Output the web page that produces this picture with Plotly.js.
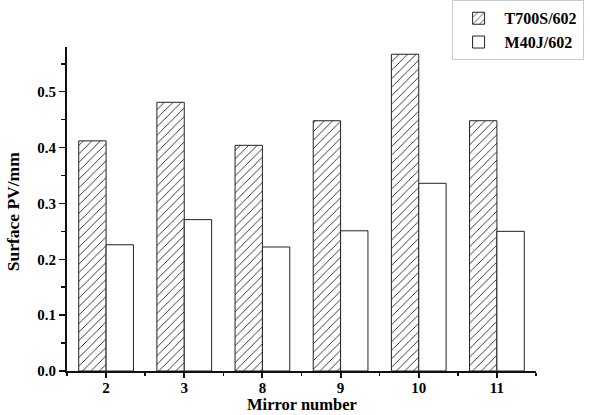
<!DOCTYPE html>
<html><head><meta charset="utf-8">
<script src="https://cdn.plot.ly/plotly-3.0.1.min.js"></script>
<style>html,body{margin:0;padding:0;background:#fff}#chart{width:590px;height:415px}</style>
</head><body><div id="chart"></div>
<script>
const categories = ["2", "3", "8", "9", "10", "11"];
const seriesNames = ["T700S/602", "M40J/602"];
const t700s = [0.412, 0.481, 0.404, 0.448, 0.567, 0.448];
const m40j = [0.226, 0.271, 0.222, 0.251, 0.336, 0.250];
const yTicks = [0.0, 0.1, 0.2, 0.3, 0.4, 0.5];

const idx = categories.map((c, i) => i);
const font = {family: "Liberation Serif, Times New Roman, serif", color: "#000"};

const traces = [
  {type: "bar", name: seriesNames[0], x: idx, y: t700s,
   marker: {color: "#fff", line: {color: "#222", width: 1},
            pattern: {shape: "/", fgcolor: "#222", bgcolor: "#fff", size: 6, solidity: 0.15}}},
  {type: "bar", name: seriesNames[1], x: idx, y: m40j,
   marker: {color: "#fff", line: {color: "#222", width: 1}}}
];

const layout = {
  width: 590, height: 415,
  margin: {l: 67, r: 54, t: 47, b: 44, autoexpand: false},
  paper_bgcolor: "#fff", plot_bgcolor: "#fff",
  barmode: "group", bargap: 0.3, bargroupgap: 0,
  font: Object.assign({size: 14}, font),
  xaxis: {
    range: [-0.5, 5.5], tickmode: "array", tickvals: idx, ticktext: categories,
    showgrid: false, zeroline: false, showline: true, linecolor: "#111", linewidth: 2,
    ticks: "outside", ticklen: 5, tickwidth: 2, tickcolor: "#111", ticklabelstandoff: -3,
    tickfont: Object.assign({size: 15, weight: "bold"}, font),
    minor: {tickmode: "linear", tick0: 0.5, dtick: 1, ticks: "outside", ticklen: 3, tickwidth: 1.5, tickcolor: "#111", showgrid: false},
    title: {text: ""}
  },
  yaxis: {
    range: [0, 0.58], tickmode: "array", tickvals: yTicks, tickformat: ".1f",
    showgrid: false, zeroline: false, showline: true, linecolor: "#111", linewidth: 2,
    ticks: "outside", ticklen: 6, tickwidth: 1.5, tickcolor: "#111",
    tickfont: Object.assign({size: 15, weight: "bold"}, font),
    minor: {tickmode: "linear", tick0: 0.05, dtick: 0.1, ticks: "outside", ticklen: 4, tickwidth: 1.5, tickcolor: "#111", showgrid: false},
    title: {text: ""}
  },
  annotations: [
    {text: "Mirror number", xref: "paper", yref: "paper", x: 0.5, y: -0.1358, yanchor: "bottom", xanchor: "center",
     showarrow: false, borderpad: 0, font: Object.assign({size: 16.5, weight: "bold"}, font)},
    {text: "Surface PV/mm", xref: "paper", yref: "paper", x: -0.115, y: 0.49, xanchor: "center", yanchor: "middle",
     textangle: -90, showarrow: false, font: Object.assign({size: 17.5, weight: "bold"}, font)}
  ],
  legend: {
    x: 0.82, y: 1.144, xanchor: "left", yanchor: "top",
    bgcolor: "#fff", bordercolor: "#ccc", borderwidth: 1,
    font: Object.assign({size: 16, weight: "bold"}, font),
    itemwidth: 42, tracegroupgap: 0, traceorder: "normal"
  },
  showlegend: true
};

Plotly.newPlot("chart", traces, layout, {displayModeBar: false, staticPlot: true});
</script>
</body></html>
